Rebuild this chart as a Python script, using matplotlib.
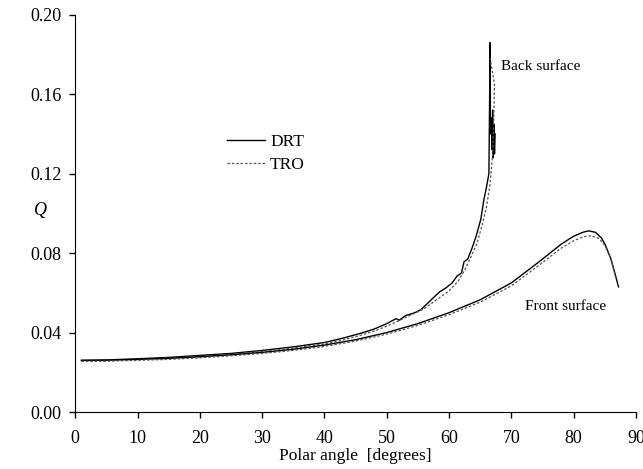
import matplotlib.pyplot as plt

plt.rcParams['font.family'] = ['Liberation Serif', 'DejaVu Serif']

# back surface, DRT (solid)
back_drt_x = [1, 5, 10, 15, 20, 25, 30, 35, 40, 43, 46, 48, 50, 51.5, 52, 53, 54.5, 55.5, 57.3,
              58.5, 59.5, 60.5, 61.3, 62.0, 62.4, 63.0, 63.7, 64.3, 65.1, 65.6, 66.0, 66.4,
              66.6, 66.65, 66.8, 66.9, 67.0, 67.1, 67.2, 67.3, 67.4]
back_drt_y = [0.026, 0.0262, 0.0268, 0.0275, 0.0285, 0.0295, 0.031, 0.0328, 0.035, 0.0372,
              0.0398, 0.0418, 0.0445, 0.047, 0.0462, 0.0485, 0.050, 0.0515, 0.057,
              0.0605, 0.0625, 0.065, 0.0685, 0.070, 0.0756, 0.077, 0.0826, 0.088, 0.097,
              0.107, 0.113, 0.120, 0.186, 0.140, 0.148, 0.132, 0.152, 0.128, 0.145, 0.130, 0.14]

# back surface, TRO (dotted)
back_tro_x = [1, 5, 10, 15, 20, 25, 30, 35, 40, 43, 46, 48, 50, 52, 54, 56, 58, 60, 61.5, 62.6,
              63.5, 64.5, 65.3, 66.0, 66.6, 67.0, 67.2, 67.3, 66.6]
back_tro_y = [0.0255, 0.0258, 0.0264, 0.0271, 0.028, 0.029, 0.0305, 0.0322, 0.0343, 0.0363,
              0.0388, 0.0408, 0.0432, 0.046, 0.049, 0.052, 0.0565, 0.061, 0.066, 0.072,
              0.078, 0.085, 0.094, 0.103, 0.115, 0.130, 0.150, 0.165, 0.178]

# front surface, DRT (solid)
front_drt_x = [1, 5, 10, 15, 20, 25, 30, 35, 40, 45, 50, 55, 60, 65, 70, 74.4, 78, 80, 81.5,
               82.4, 83.5, 84.5, 85.1, 86, 86.7, 87.2]
front_drt_y = [0.026, 0.0261, 0.0265, 0.027, 0.0278, 0.0288, 0.030, 0.0316, 0.0337, 0.0364,
               0.040, 0.0445, 0.050, 0.0565, 0.065, 0.0755, 0.0845, 0.0885, 0.0905,
               0.0912, 0.0905, 0.0875, 0.084, 0.077, 0.069, 0.063]

# front surface, TRO (dotted)
front_tro_x = [1, 5, 10, 15, 20, 25, 30, 35, 40, 45, 50, 55, 60, 65, 70, 74.4, 78, 80, 81.5,
               82.8, 84, 85, 86, 86.7]
front_tro_y = [0.0255, 0.0256, 0.026, 0.0265, 0.0273, 0.0283, 0.0295, 0.031, 0.033, 0.0357,
               0.0392, 0.0436, 0.049, 0.0553, 0.0635, 0.0738, 0.0825, 0.0862, 0.0882,
               0.0888, 0.0875, 0.084, 0.077, 0.068]

fig = plt.figure(figsize=(6.43, 4.69), dpi=100)
ax = fig.add_axes([0.117, 0.1215, 0.872, 0.847])

solid = dict(color='black', lw=1.0)
dotted = dict(color='#555555', lw=0.9, linestyle=(0, (2, 1.5)))

ax.plot(back_drt_x, back_drt_y, label='DRT', **solid)
ax.plot(back_tro_x, back_tro_y, label='TRO', **dotted)
ax.plot(front_drt_x, front_drt_y, **solid)
ax.plot(front_tro_x, front_tro_y, **dotted)

ax.set_xlim(0, 90)
ax.set_ylim(0, 0.20)
ax.set_xticks(range(0, 91, 10))
ax.set_yticks([0.0, 0.04, 0.08, 0.12, 0.16, 0.20])
ax.set_yticklabels(['0.00', '0.04', '0.08', '0.12', '0.16', '0.20'])
ax.tick_params(labelsize=13, direction='out', length=4, width=1)
ax.tick_params(axis='x', pad=9)
ax.tick_params(axis='y', pad=6)
ax.spines['top'].set_visible(False)
ax.spines['right'].set_visible(False)

ax.set_xlabel('Polar angle  [degrees]', fontsize=12.5, labelpad=1)
ax.set_ylabel('Q', fontsize=13, style='italic', rotation=0)
ax.yaxis.set_label_coords(-0.062, 0.485)

ax.text(68.4, 0.174, 'Back surface', fontsize=11, va='center')
ax.text(72.2, 0.053, 'Front surface', fontsize=11, va='center')

ax.legend(loc='upper left', bbox_to_anchor=(0.27, 0.70), frameon=False, fontsize=12.5,
          handlelength=2.2, handletextpad=0.3, borderpad=0, borderaxespad=0, labelspacing=0.4)

fig.savefig('out.png', dpi=100)
